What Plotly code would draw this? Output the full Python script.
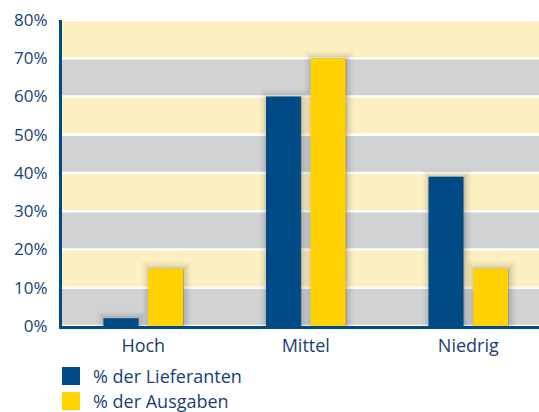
import plotly.graph_objects as go

categories = ["Hoch", "Mittel", "Niedrig"]
series_names = ["% der Lieferanten", "% der Ausgaben"]
lieferanten = [2, 60, 39]
ausgaben = [15, 70, 15]
tick_vals = [0, 10, 20, 30, 40, 50, 60, 70, 80]
tick_text = ["0%", "10%", "20%", "30%", "40%", "50%", "60%", "70%", "80%"]

BLUE = "#004a86"
YELLOW = "#ffd200"
TXT = "#173f73"
FONT = "Open Sans"

xs = list(range(len(categories)))
fig = go.Figure()

series = [(lieferanten, BLUE, -0.245), (ausgaben, YELLOW, 0.03)]
W = 0.215
# soft shadows
for vals, col, off in series:
    for lw, a in [(14, 0.035), (9, 0.05), (5, 0.07)]:
        fig.add_trace(go.Bar(x=xs, y=vals, width=W, offset=off + 0.006,
                             marker=dict(color="rgba(0,0,0,0.08)",
                                         line=dict(color=f"rgba(40,40,40,{a})", width=lw)),
                             showlegend=False, hoverinfo="skip"))
for (vals, col, off), name in zip(series, series_names):
    fig.add_trace(go.Bar(x=xs, y=vals, width=W, offset=off, name=name,
                         marker=dict(color=col, line=dict(width=0)), showlegend=False))

shapes = []
for i in range(8):
    shapes.append(dict(type="rect", xref="paper", yref="y", x0=0, x1=1,
                       y0=tick_vals[i] + 0.35, y1=tick_vals[i + 1] - 0.35,
                       fillcolor="#d1d2d4" if i % 2 == 0 else "#fcf0c0",
                       line=dict(width=0), layer="below"))
# legend
legend_y = [(-0.134, -0.193), (-0.216, -0.275)]
for (y0, y1), col in zip(legend_y, [BLUE, YELLOW]):
    shapes.append(dict(type="rect", xref="paper", yref="paper", x0=0.0, x1=0.0377,
                       y0=y0, y1=y1, fillcolor=col, line=dict(width=0)))
annotations = []
for (y0, y1), name in zip(legend_y, series_names):
    annotations.append(dict(xref="paper", yref="paper", x=0.061, y=(y0 + y1) / 2,
                            text=name, showarrow=False, xanchor="left", yanchor="middle",
                            font=dict(family=FONT, size=18, color=TXT)))

fig.update_layout(
    width=539, height=412,
    margin=dict(l=62, r=0, t=20, b=86),
    paper_bgcolor="white", plot_bgcolor="white",
    barmode="overlay",
    shapes=shapes, annotations=annotations,
    showlegend=False,
    xaxis=dict(range=[-0.5, 2.435], tickvals=xs, ticktext=categories, showgrid=False,
               zeroline=False, showline=True, linecolor=BLUE, linewidth=2.5,
               ticks="outside", ticklen=2, tickcolor="rgba(0,0,0,0)",
               tickfont=dict(family=FONT, size=18, color=TXT), fixedrange=True),
    yaxis=dict(range=[0, 80], tickvals=tick_vals, ticktext=tick_text, showgrid=False,
               zeroline=False, showline=True, linecolor=BLUE, linewidth=3,
               ticks="outside", ticklen=8, tickcolor="rgba(0,0,0,0)",
               tickfont=dict(family=FONT, size=17, color=TXT), fixedrange=True),
)

fig.write_html("out.html")
